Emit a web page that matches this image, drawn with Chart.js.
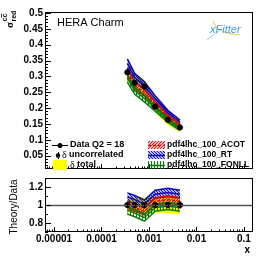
<!DOCTYPE html>
<html>
<head>
<meta charset="utf-8">
<script src="https://cdn.jsdelivr.net/npm/chart.js@4.4.0/dist/chart.umd.min.js"></script>
<style>
  body { margin: 0; background: #fff; }
  #wrap { position: relative; width: 266px; height: 258px; }
  canvas { position: absolute; left: 0; }
</style>
</head>
<body>
<div id="wrap">
  <canvas id="topPad" width="266" height="177" style="top:0"></canvas>
  <canvas id="ratioPad" width="266" height="88" style="top:170px"></canvas>
</div>
<script>
// x points at Q2 = 18
const xVals = [0.00035, 0.0005, 0.0008, 0.00135, 0.0025, 0.0045];
// measured reduced cross section and relative errors
const dataSigma = [0.313, 0.280, 0.268, 0.205, 0.163, 0.139];
const relUncor = [0.03, 0.03, 0.03, 0.03, 0.035, 0.04];
const relTotal = [0.08, 0.08, 0.08, 0.08, 0.09, 0.10];
// theory / data, central value and half width of the pdf band
const rtRatio = [1.09, 1.06, 1.01, 1.12, 1.14, 1.12];
const rtErr = [0.045, 0.045, 0.045, 0.045, 0.045, 0.045];
const acotRatio = [1.00, 0.97, 0.93, 1.04, 1.06, 1.04];
const acotErr = [0.04, 0.04, 0.04, 0.04, 0.04, 0.04];
const fonllRatio = [0.94, 0.91, 0.86, 0.97, 0.99, 0.97];
const fonllErr = [0.04, 0.04, 0.04, 0.04, 0.04, 0.04];
// tick labels
const topYTicks = [0.05, 0.1, 0.15, 0.2, 0.25, 0.3, 0.35, 0.4, 0.45, 0.5];
const ratioYTicks = [0.8, 1, 1.2];
const xTicks = [0.00001, 0.0001, 0.001, 0.01, 0.1];

const SANS = '"Liberation Sans", Arial, sans-serif';
const SERIF = '"Liberation Serif", "DejaVu Serif", serif';
const X_MIN = 6.46e-6, X_MAX = 0.155;

function hatch(color, kind) {
  const c = document.createElement('canvas');
  c.width = 3; c.height = 3;
  const g = c.getContext('2d');
  g.strokeStyle = color;
  g.lineWidth = 1.1;
  g.beginPath();
  if (kind === '/') {
    g.moveTo(-1, 4); g.lineTo(4, -1);
    g.moveTo(2, 4); g.lineTo(4, 2);
    g.moveTo(-1, 1); g.lineTo(1, -1);
  } else if (kind === '\\') {
    g.moveTo(-1, -1); g.lineTo(4, 4);
    g.moveTo(2, -1); g.lineTo(4, 1);
    g.moveTo(-1, 2); g.lineTo(1, 4);
  } else {
    g.moveTo(1.5, 0); g.lineTo(1.5, 3);
  }
  g.stroke();
  return g.createPattern(c, 'repeat');
}

const theories = [
  { name: 'pdf4lhc_100_RT', ratio: rtRatio, err: rtErr, color: '#0a0ab4', pattern: hatch('#0a0ab4', '\\'), dash: [] },
  { name: 'pdf4lhc_100_ACOT', ratio: acotRatio, err: acotErr, color: '#d01010', pattern: hatch('#d01010', '/'), dash: [3, 2] },
  { name: 'pdf4lhc_100_FONLL', ratio: fonllRatio, err: fonllErr, color: '#0a7a0a', pattern: hatch('#0a7a0a', '|'), dash: [] }
];

function pts(ys) { return xVals.map((x, i) => ({ x: x, y: ys[i] })); }
function line(data, color, dash) {
  return { type: 'line', data: data, borderColor: color, borderWidth: 1, borderDash: dash || [],
           pointRadius: 0, fill: false, tension: 0 };
}

// mult: value that ratio 1 maps to (data for top pad, 1 for ratio pad)
function buildDatasets(mult) {
  const ds = [];
  ds.push(line(pts(mult.map((m, i) => m * (1 + relTotal[i]))), '#ffff00'));
  ds.push(Object.assign(line(pts(mult.map((m, i) => m * (1 - relTotal[i]))), '#ffff00'),
    { fill: '-1', backgroundColor: '#ffff00' }));
  theories.forEach(t => {
    ds.push(Object.assign(line(pts(mult.map((m, i) => m * (t.ratio[i] + t.err[i]))), t.color), { borderWidth: 1.5 }));
    ds.push(Object.assign(line(pts(mult.map((m, i) => m * (t.ratio[i] - t.err[i]))), t.color),
      { fill: '-1', backgroundColor: t.pattern, borderWidth: 1.5 }));
    ds.push(Object.assign(line(pts(mult.map((m, i) => m * t.ratio[i])), t.color, t.dash), { borderWidth: 1.5 }));
  });
  ds.push({ type: 'line', data: pts(mult), showLine: false, pointRadius: 2.6,
            pointBackgroundColor: '#000', pointBorderColor: '#000', isData: true });
  ds.forEach((d, i) => { d.order = ds.length - i; });
  return ds;
}

function rootFrame(opts) {
  return {
    id: 'rootFrame',
    afterDatasetsDraw(chart) {
      const ctx = chart.ctx, a = chart.chartArea;
      const xs = chart.scales.x, ys = chart.scales.y;
      ctx.save();
      if (opts.unity) {
        const py = Math.round(ys.getPixelForValue(1)) + 0.5;
        ctx.strokeStyle = '#555'; ctx.lineWidth = 1.5;
        ctx.beginPath(); ctx.moveTo(a.left, py); ctx.lineTo(a.right, py); ctx.stroke();
      }
      // error bars on data points
      const meta = chart.getDatasetMeta(chart.data.datasets.findIndex(d => d.isData));
      ctx.strokeStyle = '#000'; ctx.lineWidth = 1;
      meta.data.forEach((p, i) => {
        const v = opts.mult[i];
        const y1 = ys.getPixelForValue(v * (1 + relUncor[i]));
        const y2 = ys.getPixelForValue(v * (1 - relUncor[i]));
        ctx.beginPath(); ctx.moveTo(Math.round(p.x) + 0.5, y1); ctx.lineTo(Math.round(p.x) + 0.5, y2); ctx.stroke();
      });
      // frame
      ctx.strokeStyle = '#000'; ctx.lineWidth = 1;
      ctx.strokeRect(a.left + 0.5, a.top + 0.5, a.right - a.left - 1, a.bottom - a.top - 1);
      // y ticks
      ctx.beginPath();
      for (let v = opts.yMinor; v <= ys.max + 1e-9; v += opts.yMinor) {
        const vv = Math.round(v * 1000) / 1000;
        if (vv < ys.min) continue;
        const major = Math.abs(vv / opts.yMajor - Math.round(vv / opts.yMajor)) < 1e-6;
        const py = Math.round(ys.getPixelForValue(vv)) + 0.5;
        ctx.moveTo(a.left, py); ctx.lineTo(a.left + (major ? 6 : 3), py);
      }
      // x log ticks
      for (let d = -6; d <= 0; d++) {
        for (let k = 1; k <= 9; k++) {
          const v = k * Math.pow(10, d);
          if (v < xs.min || v > xs.max) continue;
          const px = Math.round(xs.getPixelForValue(v)) + 0.5;
          ctx.moveTo(px, a.bottom); ctx.lineTo(px, a.bottom - (k === 1 ? opts.xMajorLen : opts.xMajorLen / 2));
        }
      }
      ctx.stroke();
      ctx.restore();
    }
  };
}

const topDecor = {
  id: 'topDecor',
  afterDraw(chart) {
    const ctx = chart.ctx;
    ctx.save();
    ctx.fillStyle = '#000';
    ctx.textBaseline = 'middle';
    ctx.font = '11px ' + SANS;
    ctx.fillText('HERA Charm', 57, 23);

    // y title
    ctx.save();
    ctx.translate(13, 28);
    ctx.rotate(-Math.PI / 2);
    ctx.textBaseline = 'alphabetic';
    ctx.font = 'bold 11px ' + SERIF;
    ctx.fillText('σ', 0, 0);
    const w = ctx.measureText('σ').width;
    ctx.font = 'bold 7px ' + SANS;
    ctx.fillText('cc', w + 0.5, -6);
    const cw = ctx.measureText('cc').width;
    ctx.fillRect(w + 0.5 + cw / 2, -12, cw / 2, 0.8);
    ctx.fillText('red', w + 0.5, 3);
    ctx.restore();

    // xFitter logo
    ctx.strokeStyle = '#f5d36a'; ctx.lineWidth = 1.2;
    ctx.beginPath(); ctx.moveTo(213, 21); ctx.quadraticCurveTo(216, 33, 240, 35); ctx.stroke();
    ctx.strokeStyle = '#9fd0f0'; ctx.lineWidth = 1;
    ctx.beginPath(); ctx.moveTo(207, 40); ctx.quadraticCurveTo(214, 34, 221, 30); ctx.stroke();
    ctx.font = 'italic 11px ' + SANS;
    ctx.fillStyle = '#3d9fdc';
    ctx.fillText('xFitter', 210, 30);

    // legend, left column
    ctx.fillStyle = '#000'; ctx.strokeStyle = '#000'; ctx.lineWidth = 1;
    ctx.beginPath(); ctx.moveTo(52, 145.5); ctx.lineTo(68, 145.5); ctx.stroke();
    ctx.beginPath(); ctx.arc(60, 145.5, 2.5, 0, Math.PI * 2); ctx.fill();
    ctx.beginPath(); ctx.arc(58, 155.5, 2.2, 0, Math.PI * 2); ctx.fill();
    ctx.beginPath(); ctx.moveTo(58.5, 152); ctx.lineTo(58.5, 159); ctx.stroke();
    ctx.fillStyle = '#ffff00'; ctx.fillRect(53, 160, 14, 10);
    ctx.fillStyle = '#000';
    ctx.font = 'bold 9px ' + SANS;
    ctx.fillText('Data Q2 = 18', 70, 145);
    ctx.font = '10px ' + SERIF; ctx.fillText('δ', 62, 155);
    ctx.font = 'bold 9px ' + SANS; ctx.fillText('uncorrelated', 69, 155);
    ctx.font = '10px ' + SERIF; ctx.fillText('δ', 70, 165);
    ctx.font = 'bold 9px ' + SANS; ctx.fillText('total', 77, 165);

    // legend, right column
    const order = [theories[1], theories[0], theories[2]];
    order.forEach((t, i) => {
      const cy = 145 + i * 10;
      ctx.fillStyle = t.pattern;
      ctx.fillRect(148, cy - 4, 17, 8);
      ctx.strokeStyle = t.color; ctx.lineWidth = 1.5; ctx.setLineDash(t.dash);
      ctx.beginPath(); ctx.moveTo(148, cy + 0.5); ctx.lineTo(165, cy + 0.5); ctx.stroke();
      ctx.setLineDash([]);
      ctx.fillStyle = '#000';
      ctx.font = 'bold 8.5px ' + SANS;
      ctx.fillText(t.name, 167, cy);
    });
    ctx.restore();
  }
};

const ratioDecor = {
  id: 'ratioDecor',
  afterDraw(chart) {
    const ctx = chart.ctx;
    ctx.save();
    ctx.fillStyle = '#000';
    ctx.font = 'bold 10px ' + SANS;
    ctx.textAlign = 'right';
    ctx.textBaseline = 'middle';
    ctx.fillText('x', 250, 80);
    ctx.translate(14, 37);
    ctx.rotate(-Math.PI / 2);
    ctx.textAlign = 'center';
    ctx.font = '10px ' + SANS;
    ctx.fillText('Theory/Data', 0, 0);
    ctx.restore();
  }
};

function yAxis(min, max, ticks) {
  return {
    min: min, max: max,
    afterBuildTicks: s => { s.ticks = ticks.map(v => ({ value: v })); },
    afterFit: s => { s.width = 45; },
    grid: { display: false, drawTicks: false },
    border: { display: false },
    ticks: { autoSkip: false, padding: 2, color: '#000',
             font: { family: SANS, size: 10, weight: 'bold' },
             callback: v => String(Number(v.toFixed(2))) }
  };
}

const common = {
  animation: false, responsive: false, devicePixelRatio: 1, events: [],
  plugins: { legend: { display: false }, tooltip: { enabled: false } }
};

new Chart(document.getElementById('topPad'), {
  type: 'line',
  data: { datasets: buildDatasets(dataSigma) },
  options: Object.assign({}, common, {
    layout: { padding: { left: 0, right: 13, top: 12, bottom: 1 } },
    scales: {
      x: { type: 'logarithmic', min: X_MIN, max: X_MAX, display: false },
      y: yAxis(0.008, 0.503, topYTicks)
    }
  }),
  plugins: [rootFrame({ mult: dataSigma, yMinor: 0.01, yMajor: 0.05, xMajorLen: 5 }), topDecor]
});

const ones = xVals.map(() => 1);
new Chart(document.getElementById('ratioPad'), {
  type: 'line',
  data: { datasets: buildDatasets(ones) },
  options: Object.assign({}, common, {
    layout: { padding: { left: 0, right: 13, top: 8, bottom: 0 } },
    scales: {
      x: {
        type: 'logarithmic', min: X_MIN, max: X_MAX,
        afterBuildTicks: s => { s.ticks = xTicks.map(v => ({ value: v })); },
        afterFit: s => { s.height = 26; },
        grid: { display: false, drawTicks: false },
        border: { display: false },
        ticks: { autoSkip: false, maxRotation: 0, padding: 1, color: '#000',
                 font: { family: SANS, size: 10, weight: 'bold' },
                 callback: v => String(v) }
      },
      y: yAxis(0.7, 1.3, ratioYTicks)
    }
  }),
  plugins: [rootFrame({ mult: ones, yMinor: 0.1, yMajor: 0.2, xMajorLen: 5, unity: true }), ratioDecor]
});
</script>
</body>
</html>
